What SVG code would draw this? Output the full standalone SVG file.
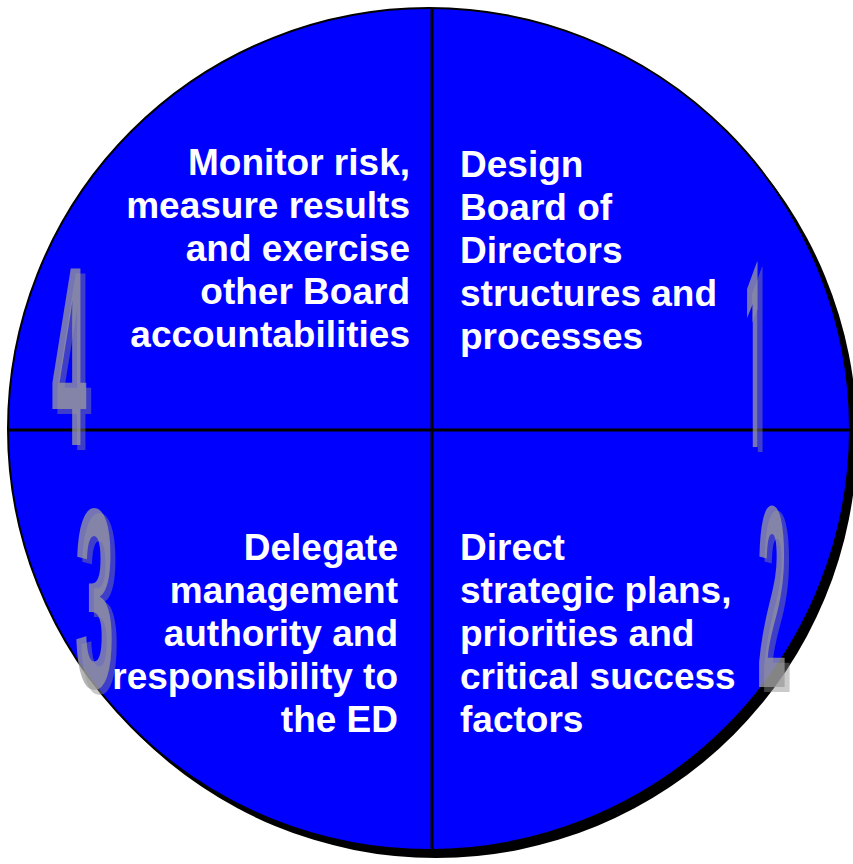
<svg xmlns="http://www.w3.org/2000/svg" width="853" height="864" viewBox="0 0 853 864">
  <style>
    .label { font-family: "Liberation Sans", Arial, sans-serif; font-weight: bold; font-size: 37px; fill: #ffffff; }
    .left { text-anchor: end; }
    .right { text-anchor: start; }
    .digit { font-family: "Liberation Sans", Arial, sans-serif; font-weight: bold; font-size: 100px; text-anchor: middle; }
    .digit-plain { font-family: Roboto, "Open Sans", sans-serif; }
    .digit-back { fill: #8a8a8a; fill-opacity: 0.45; }
    .digit-front { fill: #9c9c9c; fill-opacity: 0.75; }
    .divider { stroke: #000000; stroke-width: 3; fill: none; }
  </style>
  <defs>
    <clipPath id="disc">
      <circle cx="429" cy="429" r="421"/>
    </clipPath>
  </defs>

  <!-- Disc with drop shadow -->
  <g id="disc-base">
    <circle cx="436" cy="437" r="421" fill="#000000"/>
    <circle cx="429" cy="429" r="421" fill="#0000ff" stroke="#000000" stroke-width="2"/>
  </g>

  <!-- Quadrant dividers -->
  <g id="connectors" clip-path="url(#disc)">
    <line class="divider" x1="432" y1="0" x2="432" y2="864"/>
    <line class="divider" x1="0" y1="430" x2="853" y2="430"/>
  </g>

  <!-- Step numbers (translucent stretched digits with offset shadow) -->
  <g id="step-numbers">
    <g id="num-4">
      <text class="digit digit-back" transform="translate(74,450) scale(0.63,2.56)">4</text>
      <text class="digit digit-front" transform="translate(69,445) scale(0.63,2.56)">4</text>
    </g>
    <g id="num-1">
      <text class="digit digit-plain digit-back" transform="translate(759,452) scale(0.34,2.6)">1</text>
      <text class="digit digit-plain digit-front" transform="translate(754,447) scale(0.34,2.6)">1</text>
    </g>
    <g id="num-3">
      <text class="digit digit-back" transform="translate(99.5,692) scale(0.71,2.56)">3</text>
      <text class="digit digit-front" transform="translate(94.5,687) scale(0.71,2.56)">3</text>
    </g>
    <g id="num-2">
      <text class="digit digit-back" transform="translate(777,692) scale(0.53,2.6)">2</text>
      <text class="digit digit-front" transform="translate(772,687) scale(0.53,2.6)">2</text>
    </g>
  </g>

  <!-- Quadrant 1: design -->
  <g id="node-design">
    <text class="label right" x="460" y="177">Design</text>
    <text class="label right" x="460" y="220">Board of</text>
    <text class="label right" x="460" y="263">Directors</text>
    <text class="label right" x="460" y="306">structures and</text>
    <text class="label right" x="460" y="349">processes</text>
  </g>

  <!-- Quadrant 2: direct -->
  <g id="node-direct">
    <text class="label right" x="460" y="560">Direct</text>
    <text class="label right" x="460" y="603">strategic plans,</text>
    <text class="label right" x="460" y="646">priorities and</text>
    <text class="label right" x="460" y="689">critical success</text>
    <text class="label right" x="460" y="732">factors</text>
  </g>

  <!-- Quadrant 3: delegate -->
  <g id="node-delegate">
    <text class="label left" x="398" y="560">Delegate</text>
    <text class="label left" x="398" y="603">management</text>
    <text class="label left" x="398" y="646">authority and</text>
    <text class="label left" x="398" y="689">responsibility to</text>
    <text class="label left" x="398" y="732">the ED</text>
  </g>

  <!-- Quadrant 4: monitor -->
  <g id="node-monitor">
    <text class="label left" x="410" y="175">Monitor risk,</text>
    <text class="label left" x="410" y="218">measure results</text>
    <text class="label left" x="410" y="261">and exercise</text>
    <text class="label left" x="410" y="304">other Board</text>
    <text class="label left" x="410" y="347">accountabilities</text>
  </g>
</svg>
